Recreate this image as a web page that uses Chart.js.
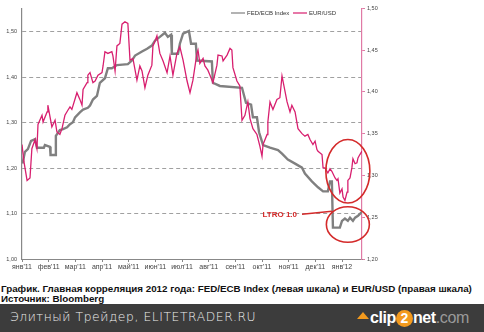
<!DOCTYPE html>
<html>
<head>
<meta charset="utf-8">
<script src="https://cdn.jsdelivr.net/npm/chart.js@4"></script>
<style>
  body { margin: 0; background: #fff; width: 484px; height: 332px; overflow: hidden; position: relative; font-family: "Liberation Sans", Arial, sans-serif; }
  #wrap { position: absolute; left: 0; top: 0; width: 484px; height: 272px; }
  .cap { position: absolute; left: 1px; font-weight: bold; font-size: 9.8px; line-height: 10px; color: #111; white-space: nowrap; }
  #bar { position: absolute; left: 0; top: 304px; width: 484px; height: 28px; background: #3c3c3c; }
  #site { position: absolute; left: 10px; top: 6px; font-family: "DejaVu Sans", sans-serif; font-weight: 200; font-size: 12.3px; line-height: 14px; color: #eeeeee; letter-spacing: 0.6px; white-space: nowrap; }
  #logo { position: absolute; left: 357px; top: 4px; height: 20px; font-family: "Liberation Sans", Arial, sans-serif; font-weight: bold; font-size: 16px; line-height: 20px; letter-spacing: -0.4px; color: #fff; white-space: nowrap; }
  #logo .arr { display: inline-block; width: 0; height: 0; border-left: 6px solid transparent; border-right: 6px solid transparent; border-bottom: 7px solid #f39a1e; position: relative; top: -4px; margin-right: 1px; }
  #logo .two { display: inline-block; width: 17px; height: 17px; border-radius: 50%; background: #f39a1e; color: #fff; text-align: center; line-height: 17px; font-size: 14px; letter-spacing: 0; }
  #logo .com { color: #9a9a9a; font-weight: normal; }
</style>
</head>
<body>
<div id="wrap"><canvas id="myChart" width="484" height="272"></canvas></div>
<div class="cap" style="top:284px">График. Главная корреляция 2012 года: FED/ECB Index (левая шкала) и EUR/USD (правая шкала)</div>
<div class="cap" style="top:294px">Источник: Bloomberg</div>
<div id="bar">
  <div id="site">Элитный Трейдер, ELITETRADER.RU</div>
  <div id="logo"><span class="arr"></span>clip<span class="two">2</span>net<span class="com">.com</span></div>
</div>
<script>
// months since 1 Jan 2011
const monthLabels = ["янв'11", "фев'11", "мар'11", "апр'11", "май'11", "июн'11", "июл'11",
    "авг'11", "сен'11", "окт'11", "ноя'11", "дек'11", "янв'12"];
const leftTicks = [1.00, 1.10, 1.20, 1.30, 1.40, 1.50];
const rightTicks = [1.20, 1.25, 1.30, 1.35, 1.40, 1.45, 1.50];

// FED/ECB Index (left scale)
const fedMonths = [0.02, 0.11, 0.22, 0.34, 0.49, 0.56, 0.82, 0.86, 1.05, 1.07, 1.24, 1.27, 1.42, 1.54, 1.69, 1.80,
    1.91, 1.99, 2.17, 2.29, 2.47, 2.55, 2.66, 2.81, 2.92, 3.11, 3.22, 3.37, 3.56, 3.97, 4.12, 4.24, 4.50, 4.69,
    4.87, 4.99, 5.17, 5.36, 5.47, 5.59, 5.62, 5.85, 5.92, 6.04, 6.26, 6.34, 6.52, 6.56, 7.12, 7.16, 7.42, 8.25,
    8.40, 8.59, 8.66, 8.81, 8.89, 9.04, 9.30, 9.60, 9.75, 9.97, 10.24, 10.50, 10.61, 10.87, 11.10, 11.29, 11.47,
    11.55, 11.62, 11.66, 11.92, 12.00, 12.11, 12.22, 12.30, 12.41, 12.49, 12.60, 12.75];
const fedValues = [1.210, 1.236, 1.242, 1.260, 1.264, 1.245, 1.245, 1.251, 1.247, 1.229, 1.229, 1.271, 1.284, 1.286,
    1.290, 1.297, 1.301, 1.312, 1.323, 1.329, 1.333, 1.338, 1.351, 1.359, 1.388, 1.398, 1.420, 1.420, 1.427, 1.429,
    1.437, 1.448, 1.457, 1.463, 1.470, 1.481, 1.489, 1.498, 1.489, 1.494, 1.452, 1.452, 1.474, 1.496, 1.502, 1.474,
    1.474, 1.437, 1.435, 1.388, 1.381, 1.377, 1.344, 1.340, 1.312, 1.312, 1.279, 1.251, 1.245, 1.240, 1.232, 1.219,
    1.210, 1.201, 1.188, 1.171, 1.158, 1.149, 1.149, 1.171, 1.171, 1.069, 1.069, 1.084, 1.089, 1.084, 1.091, 1.084,
    1.091, 1.095, 1.104];

// EUR/USD (right scale)
const eurMonths = [0.00, 0.07, 0.19, 0.30, 0.37, 0.49, 0.56, 0.60, 0.75, 0.79, 0.94, 0.97, 1.12, 1.24, 1.31, 1.42,
    1.50, 1.61, 1.72, 1.80, 1.87, 2.06, 2.17, 2.25, 2.29, 2.44, 2.47, 2.55, 2.66, 2.74, 2.85, 3.00, 3.04, 3.11,
    3.22, 3.37, 3.41, 3.49, 3.56, 3.67, 3.75, 3.86, 3.97, 4.05, 4.16, 4.31, 4.42, 4.50, 4.61, 4.72, 4.87, 4.91,
    4.99, 5.06, 5.17, 5.29, 5.44, 5.55, 5.66, 5.81, 5.92, 6.04, 6.19, 6.30, 6.41, 6.56, 6.60, 6.67, 6.79, 6.86,
    6.97, 7.05, 7.16, 7.31, 7.35, 7.50, 7.54, 7.69, 7.80, 7.87, 7.91, 8.06, 8.17, 8.25, 8.36, 8.47, 8.55, 8.66,
    8.81, 8.92, 9.00, 9.04, 9.19, 9.22, 9.30, 9.41, 9.56, 9.67, 9.75, 9.94, 10.05, 10.12, 10.24, 10.35, 10.50,
    10.61, 10.72, 10.80, 10.91, 10.99, 11.06, 11.10, 11.25, 11.29, 11.36, 11.47, 11.55, 11.62, 11.74, 11.81,
    11.85, 11.92, 12.00, 12.04, 12.11, 12.19, 12.22, 12.30, 12.37, 12.41, 12.49, 12.56, 12.60, 12.67, 12.75];
const eurValues = [1.337, 1.317, 1.294, 1.297, 1.332, 1.343, 1.332, 1.361, 1.372, 1.364, 1.376, 1.384, 1.358, 1.366,
    1.352, 1.349, 1.356, 1.372, 1.378, 1.382, 1.379, 1.399, 1.391, 1.384, 1.403, 1.411, 1.420, 1.423, 1.411, 1.413,
    1.420, 1.423, 1.431, 1.448, 1.446, 1.448, 1.443, 1.425, 1.455, 1.458, 1.481, 1.484, 1.482, 1.438, 1.440, 1.414,
    1.431, 1.425, 1.405, 1.420, 1.432, 1.455, 1.461, 1.467, 1.446, 1.437, 1.423, 1.443, 1.420, 1.446, 1.454, 1.438,
    1.413, 1.399, 1.414, 1.446, 1.450, 1.434, 1.440, 1.431, 1.426, 1.420, 1.411, 1.432, 1.444, 1.443, 1.437, 1.444,
    1.452, 1.450, 1.429, 1.413, 1.407, 1.366, 1.372, 1.388, 1.368, 1.356, 1.349, 1.335, 1.323, 1.337, 1.349, 1.364,
    1.388, 1.379, 1.391, 1.393, 1.419, 1.388, 1.376, 1.384, 1.376, 1.356, 1.350, 1.347, 1.349, 1.343, 1.337, 1.341,
    1.331, 1.329, 1.325, 1.309, 1.309, 1.303, 1.308, 1.305, 1.297, 1.294, 1.296, 1.279, 1.284, 1.274, 1.270, 1.280,
    1.294, 1.297, 1.309, 1.320, 1.314, 1.315, 1.321, 1.325, 1.329];

const fedColor = '#808080';
const eurColor = '#d81f6f';
const markColor = '#d42a2a';

function toPoints(xs, ys) {
    return xs.map((x, i) => ({ x: x, y: ys[i] }));
}

function fmt(v) {
    return v.toFixed(2).replace('.', ',');
}

// legend, LTRO note and the two highlight rings
const overlay = {
    id: 'overlay',
    afterDraw(chart) {
        const c = chart.ctx;
        const xs = chart.scales.x;
        const yl = chart.scales.y;
        const yr = chart.scales.y1;
        c.save();

        c.font = '6px "Liberation Sans", Arial, sans-serif';
        c.textBaseline = 'middle';
        c.fillStyle = '#333';
        c.lineWidth = 1.2;
        c.strokeStyle = fedColor;
        c.beginPath(); c.moveTo(231, 13); c.lineTo(245, 13); c.stroke();
        c.fillText('FED/ECB Index', 247, 13);
        c.strokeStyle = eurColor;
        c.beginPath(); c.moveTo(293, 13); c.lineTo(307, 13); c.stroke();
        c.fillText('EUR/USD', 309, 13);

        c.strokeStyle = markColor;
        c.lineWidth = 1.6;
        // ring around EUR/USD at the turn of the year
        let cx = xs.getPixelForValue(12.22);
        let top = yr.getPixelForValue(1.343), bot = yr.getPixelForValue(1.267);
        c.beginPath();
        c.ellipse(cx, (top + bot) / 2, 22, (bot - top) / 2, 0, 0, Math.PI * 2);
        c.stroke();
        // ring around FED/ECB after the drop
        top = yl.getPixelForValue(1.115); bot = yl.getPixelForValue(1.037);
        c.beginPath();
        c.ellipse(cx, (top + bot) / 2, 21.5, (bot - top) / 2, 0, 0, Math.PI * 2);
        c.stroke();

        // LTRO 1.0 pointer
        const ly = yl.getPixelForValue(1.103);
        c.lineWidth = 1.4;
        c.beginPath();
        c.moveTo(xs.getPixelForValue(10.5), ly + 2);
        c.lineTo(xs.getPixelForValue(11.62), ly - 1);
        c.stroke();
        c.fillStyle = markColor;
        c.font = 'bold 8px "Liberation Sans", Arial, sans-serif';
        c.textAlign = 'right';
        c.fillText('LTRO 1.0', xs.getPixelForValue(10.5) - 5, ly + 3);
        c.restore();
    }
};

var ctx = document.getElementById('myChart').getContext('2d');

var myChart = new Chart(ctx, {
    type: 'line',
    data: {
        datasets: [{
            label: 'FED/ECB Index',
            data: toPoints(fedMonths, fedValues),
            borderColor: fedColor,
            borderWidth: 2.4,
            pointRadius: 0,
            tension: 0,
            yAxisID: 'y',
            order: 2
        },
        {
            label: 'EUR/USD',
            data: toPoints(eurMonths, eurValues),
            borderColor: eurColor,
            borderWidth: 1.3,
            pointRadius: 0,
            tension: 0,
            yAxisID: 'y1',
            order: 1
        }]
    },
    options: {
        responsive: false,
        animation: false,
        layout: { padding: { top: 4, left: 0, right: 0, bottom: 0 } },
        plugins: { legend: { display: false }, tooltip: { enabled: false } },
        scales: {
            x: {
                type: 'linear',
                min: 0,
                max: 12.75,
                afterBuildTicks: (s) => { s.ticks = monthLabels.map((_, i) => ({ value: i })); },
                afterFit: (s) => { s.height = 13; },
                grid: { drawOnChartArea: false, drawTicks: true, tickLength: 3, color: '#888' },
                border: { display: true, color: '#888', width: 1 },
                ticks: {
                    autoSkip: false,
                    maxRotation: 0,
                    padding: 1,
                    color: '#444',
                    font: { size: 7, family: '"Liberation Sans", Arial, sans-serif' },
                    callback: (v) => monthLabels[v]
                }
            },
            y: {
                position: 'left',
                min: 1.0,
                max: 1.552,
                afterBuildTicks: (s) => { s.ticks = leftTicks.map(v => ({ value: v })); },
                afterFit: (s) => { s.width = 22; },
                grid: { color: (c) => c.tick && c.tick.value > 1.0 ? '#a0a0a0' : 'rgba(0,0,0,0)', drawTicks: false, lineWidth: 1 },
                border: { display: true, color: '#888', width: 1.2, dash: [4, 3] },
                ticks: {
                    padding: 5,
                    color: '#444',
                    font: { size: 5.5, family: '"Liberation Sans", Arial, sans-serif' },
                    callback: (v) => fmt(v)
                }
            },
            y1: {
                position: 'right',
                min: 1.20,
                max: 1.50,
                afterBuildTicks: (s) => { s.ticks = rightTicks.map(v => ({ value: v })); },
                afterFit: (s) => { s.width = 122; },
                grid: { drawOnChartArea: false, drawTicks: true, tickLength: 3, color: '#e07aa5' },
                border: { display: true, color: '#e07aa5', width: 1.2 },
                ticks: {
                    padding: 2,
                    color: '#444',
                    font: { size: 5.5, family: '"Liberation Sans", Arial, sans-serif' },
                    callback: (v) => fmt(v)
                }
            }
        }
    },
    plugins: [overlay]
});
</script>
</body>
</html>
